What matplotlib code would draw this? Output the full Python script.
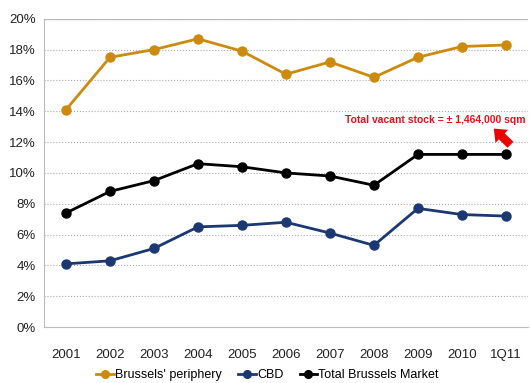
import matplotlib.pyplot as plt
from matplotlib.ticker import FuncFormatter

plt.rcParams["font.family"] = ["Liberation Sans", "DejaVu Sans"]

# --- Vacancy rates (%) ---
periods = ["2001", "2002", "2003", "2004", "2005", "2006", "2007", "2008", "2009", "2010", "1Q11"]
periphery = [14.1, 17.5, 18.0, 18.7, 17.9, 16.4, 17.2, 16.2, 17.5, 18.2, 18.3]
cbd = [4.1, 4.3, 5.1, 6.5, 6.6, 6.8, 6.1, 5.3, 7.7, 7.3, 7.2]
total = [7.4, 8.8, 9.5, 10.6, 10.4, 10.0, 9.8, 9.2, 11.2, 11.2, 11.2]

x = range(len(periods))

fig = plt.figure(figsize=(5.3, 3.83), dpi=100)
ax = fig.add_axes([0.083, 0.146, 0.913, 0.805])

ax.plot(x, periphery, color="#CC8A0E", lw=2, marker="o", ms=6.5, label="Brussels' periphery")
ax.plot(x, cbd, color="#1C3873", lw=2, marker="o", ms=6.5, label="CBD")
ax.plot(x, total, color="black", lw=2, marker="o", ms=6.5, label="Total Brussels Market")

ax.set_xlim(-0.5, len(periods) - 0.5)
ax.set_ylim(0, 20)
ax.set_yticks(range(0, 21, 2))
ax.yaxis.set_major_formatter(FuncFormatter(lambda v, p: f"{v:.0f}%"))
ax.set_xticks(list(x))
ax.set_xticklabels(periods)
ax.tick_params(axis="both", length=0, labelsize=9.5, colors="#222222")
ax.tick_params(axis="x", pad=16)
ax.tick_params(axis="y", pad=6)

ax.grid(axis="y", color="#AAAAAA", ls=":", lw=0.8)
ax.axhline(20, color="#BBBBBB", lw=1)
for s in ["top", "right"]:
    ax.spines[s].set_visible(False)
for s in ["left", "bottom"]:
    ax.spines[s].set_color("#BBBBBB")

# --- Annotation ---
ax.annotate("", xy=(9.68, 13.0), xytext=(10.15, 11.7),
            arrowprops=dict(arrowstyle="simple,head_width=1.3,head_length=0.8,tail_width=0.6",
                            color="#EE0000", lw=0))
ax.text(10.45, 13.45, "Total vacant stock = \u00b1 1,464,000 sqm", color="#E8101C",
        fontsize=7.5, fontweight="bold", ha="right", va="center")

ax.legend(loc="lower center", bbox_to_anchor=(0.505, 0.0), bbox_transform=fig.transFigure,
          ncol=3, frameon=False, borderpad=0, borderaxespad=0.15, markerscale=0.85,
          fontsize=9, handlelength=1.4, columnspacing=1.3, handletextpad=0.1)

plt.savefig("out.png", dpi=100)
